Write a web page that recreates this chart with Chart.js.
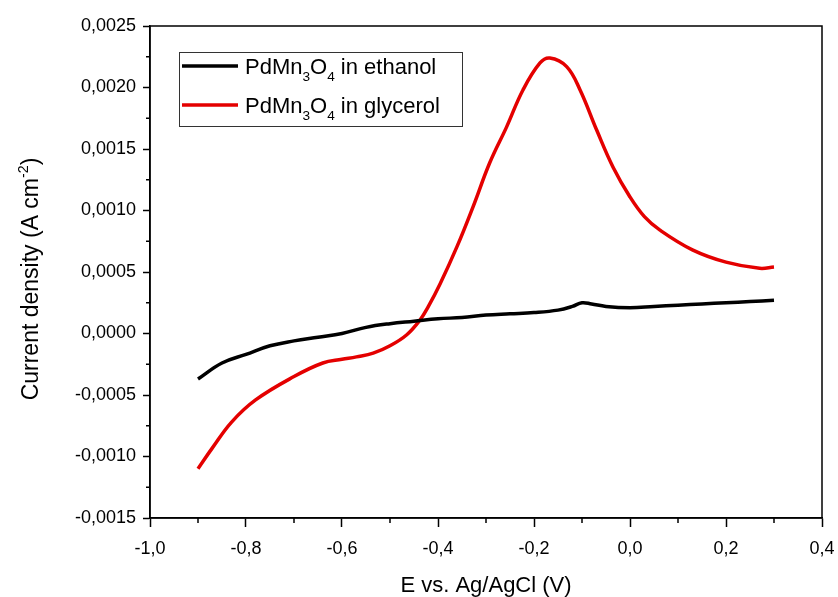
<!DOCTYPE html>
<html>
<head>
<meta charset="utf-8">
<script src="https://cdn.jsdelivr.net/npm/chart.js@4/dist/chart.umd.min.js"></script>
<style>
  html, body { margin: 0; padding: 0; background: #fff; }
  #wrap { width: 838px; height: 597px; }
</style>
</head>
<body>
<div id="wrap"><canvas id="chart" width="838" height="597"></canvas></div>
<script>
// potential (V vs Ag/AgCl) and current density (A cm-2)
const ethanolE = [-0.9, -0.85, -0.8, -0.75, -0.7, -0.65, -0.6, -0.55, -0.5, -0.45, -0.4, -0.35, -0.3, -0.25, -0.2, -0.15, -0.12, -0.1, -0.08, -0.05, 0, 0.05, 0.1, 0.15, 0.2, 0.25, 0.3]
const ethanolJ = [-0.00037, -0.00024, -0.00017, -0.0001, -0.00006, -0.00003, 0.0, 0.00005, 0.00008, 0.0001, 0.00012, 0.00013, 0.00015, 0.00016, 0.00017, 0.00019, 0.00022, 0.00025, 0.00024, 0.00022, 0.00021, 0.00022, 0.00023, 0.00024, 0.00025, 0.00026, 0.00027]

const glycerolE = [-0.9, -0.87, -0.83, -0.78, -0.7, -0.64, -0.6, -0.57, -0.535, -0.5, -0.465, -0.4375, -0.42, -0.396, -0.36, -0.327, -0.292, -0.257, -0.223, -0.1875, -0.167, -0.132, -0.104, -0.069, -0.035, 0, 0.03, 0.0625, 0.13, 0.2, 0.27, 0.3]
const glycerolJ = [-0.0011, -0.00093, -0.00072, -0.00054, -0.00035, -0.00024, -0.00021, -0.00019, -0.00016, -0.0001, -0.00001, 0.00011, 0.00022, 0.0004, 0.00071, 0.00103, 0.00139, 0.00168, 0.00198, 0.0022, 0.00224, 0.00217, 0.00198, 0.00165, 0.00135, 0.00111, 0.00095, 0.00084, 0.00068, 0.00058, 0.00053, 0.00054]

const seriesNames = [['PdMn', '3', 'O', '4', ' in ethanol'], ['PdMn', '3', 'O', '4', ' in glycerol']]
const seriesColors = ['#000000', 'rgb(228, 0, 0)']
const xTitle = 'E vs. Ag/AgCl (V)'
const yTitle = ['Current density (A cm', '-2', ')']

const FONT = '"Liberation Sans", Arial, sans-serif'

function pts(xs, ys) {
  return xs.map((x, i) => ({ x: x, y: ys[i] }))
}

const isMajorX = (v) => Math.round(v * 10) % 2 === 0
const isMajorY = (v) => Math.round(v * 4000) % 2 === 0

// draws text pieces alternating normal / subscript (or superscript)
function richText(ctx, parts, x, y, size, shift) {
  parts.forEach((p, i) => {
    const small = i % 2 === 1
    ctx.font = (small ? size * 0.62 : size) + 'px ' + FONT
    ctx.fillText(p, x, small ? y + shift : y)
    x += ctx.measureText(p).width
  })
}

const frame = {
  id: 'frame',
  afterDraw(chart) {
    const ctx = chart.ctx
    const a = chart.chartArea
    const xs = chart.scales.x
    const ys = chart.scales.y
    ctx.save()
    ctx.strokeStyle = '#000'
    ctx.lineWidth = 1.5
    ctx.strokeRect(a.left, a.top, a.right - a.left, a.bottom - a.top)

    // minor ticks
    ctx.beginPath()
    xs.ticks.forEach((t) => {
      if (isMajorX(t.value)) return
      const px = xs.getPixelForValue(t.value)
      ctx.moveTo(px, a.bottom)
      ctx.lineTo(px, a.bottom + 5)
    })
    ys.ticks.forEach((t) => {
      if (isMajorY(t.value)) return
      const py = ys.getPixelForValue(t.value)
      ctx.moveTo(a.left, py)
      ctx.lineTo(a.left - 4, py)
    })
    ctx.stroke()

    // legend
    ctx.lineWidth = 1
    ctx.strokeStyle = '#333'
    ctx.strokeRect(179.5, 52.5, 283, 74)
    ctx.textBaseline = 'alphabetic'
    ctx.fillStyle = '#000'
    ;[66, 105].forEach((ly, i) => {
      ctx.strokeStyle = seriesColors[i]
      ctx.lineWidth = 3.5
      ctx.beginPath()
      ctx.moveTo(182, ly)
      ctx.lineTo(238, ly)
      ctx.stroke()
      richText(ctx, seriesNames[i], 245, ly + 8, 22, 7)
    })

    // x axis title
    ctx.textAlign = 'center'
    ctx.font = '22px ' + FONT
    ctx.fillText(xTitle, (a.left + a.right) / 2, 592)

    // y axis title with superscript
    ctx.translate(30, 279)
    ctx.rotate(-Math.PI / 2)
    ctx.textAlign = 'left'
    const size = 23
    ctx.font = size + 'px ' + FONT
    let w = ctx.measureText(yTitle[0]).width + ctx.measureText(yTitle[2]).width
    ctx.font = (size * 0.62) + 'px ' + FONT
    w += ctx.measureText(yTitle[1]).width
    richText(ctx, yTitle, -w / 2, 8, size, -10)
    ctx.restore()
  }
}

new Chart(document.getElementById('chart'), {
  type: 'scatter',
  data: {
    datasets: [
      {
        label: 'PdMn3O4 in ethanol',
        data: pts(ethanolE, ethanolJ),
        showLine: true,
        borderColor: seriesColors[0],
        borderWidth: 3.5,
        pointRadius: 0,
        tension: 0.4,
      },
      {
        label: 'PdMn3O4 in glycerol',
        data: pts(glycerolE, glycerolJ),
        showLine: true,
        borderColor: seriesColors[1],
        borderWidth: 3.5,
        pointRadius: 0,
        tension: 0.4,
      },
    ],
  },
  options: {
    responsive: false,
    animation: false,
    layout: { padding: { left: 0, top: 26, right: 16, bottom: 0 } },
    plugins: {
      legend: { display: false },
      tooltip: { enabled: false },
    },
    scales: {
      x: {
        type: 'linear',
        min: -1,
        max: 0.4,
        afterFit: (s) => {
          s.height = 79
          s.paddingLeft = 0
          s.paddingRight = 0
        },
        grid: {
          drawOnChartArea: false,
          tickLength: 9,
          tickWidth: 1.5,
          tickColor: (c) => (c.tick && isMajorX(c.tick.value) ? '#000' : 'rgba(0,0,0,0)'),
        },
        border: { color: '#000', width: 1.5 },
        ticks: {
          stepSize: 0.1,
          autoSkip: false,
          maxRotation: 0,
          padding: 11,
          color: '#000',
          font: { family: FONT, size: 18 },
          callback: (v) => {
            const n = Math.round(v * 10)
            return n % 2 === 0 ? (n / 10).toFixed(1).replace('.', ',') : ''
          },
        },
      },
      y: {
        min: -0.0015,
        max: 0.0025,
        afterFit: (s) => {
          s.width = 150
          s.paddingTop = 0
          s.paddingBottom = 0
        },
        grid: {
          drawOnChartArea: false,
          tickLength: 7,
          tickWidth: 1.5,
          tickColor: (c) => (c.tick && isMajorY(c.tick.value) ? '#000' : 'rgba(0,0,0,0)'),
        },
        border: { color: '#000', width: 1.5 },
        ticks: {
          stepSize: 0.00025,
          autoSkip: false,
          padding: 7,
          color: '#000',
          font: { family: FONT, size: 18 },
          callback: (v) => {
            const n = Math.round(v * 4000)
            return n % 2 === 0 ? (n / 4000).toFixed(4).replace('.', ',') : ''
          },
        },
      },
    },
  },
  plugins: [frame],
})
</script>
</body>
</html>
